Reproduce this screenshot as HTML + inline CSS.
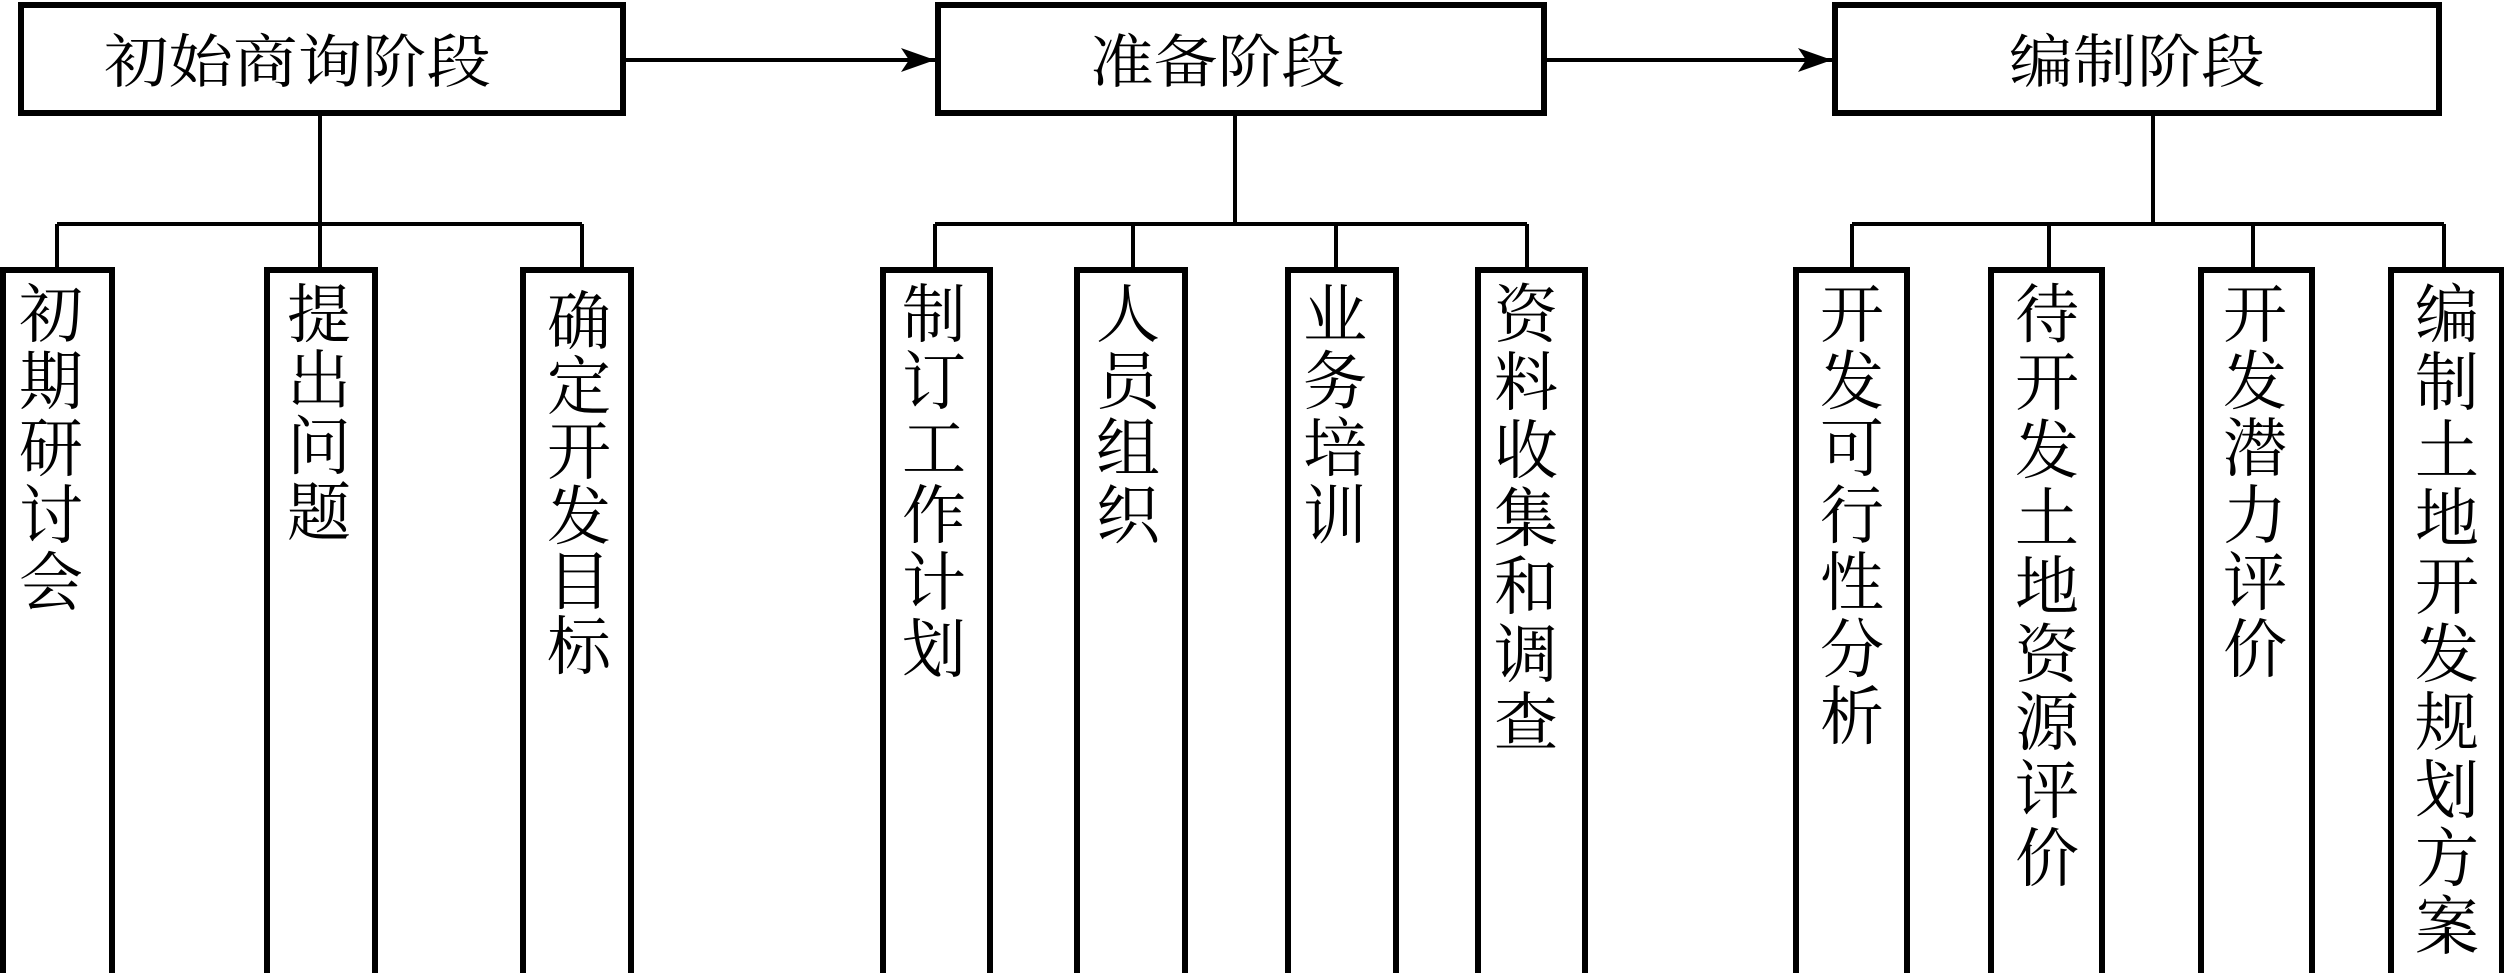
<!DOCTYPE html>
<html><head><meta charset="utf-8"><style>
html,body{margin:0;padding:0;background:#fff;width:2504px;height:973px;overflow:hidden}
text{font-family:"Liberation Serif","Noto Serif CJK SC",serif;fill:#000}
</style></head><body>
<svg width="2504" height="973" viewBox="0 0 2504 973" xmlns="http://www.w3.org/2000/svg">
<defs><marker id="ah" markerWidth="34" markerHeight="24" refX="34" refY="12" orient="auto" markerUnits="userSpaceOnUse"><path d="M0,0 L34,12 L0,24 L8,12 Z" fill="#000"/></marker></defs>
<g fill="none" stroke="#000" stroke-width="6">
<rect x="21" y="5" width="602" height="108"/>
<rect x="938" y="5" width="606" height="108"/>
<rect x="1835" y="5" width="604" height="108"/>
<rect x="3" y="270" width="109" height="720"/>
<rect x="267" y="270" width="108" height="720"/>
<rect x="523" y="270" width="108" height="720"/>
<rect x="883" y="270" width="107" height="720"/>
<rect x="1077" y="270" width="108" height="720"/>
<rect x="1288" y="270" width="108" height="720"/>
<rect x="1478" y="270" width="107" height="720"/>
<rect x="1796" y="270" width="111" height="720"/>
<rect x="1991" y="270" width="111" height="720"/>
<rect x="2201" y="270" width="111" height="720"/>
<rect x="2391" y="270" width="111" height="720"/>
</g>
<g fill="none" stroke="#000" stroke-width="4">
<line x1="626" y1="60" x2="935" y2="60" marker-end="url(#ah)"/>
<line x1="1547" y1="60" x2="1832" y2="60" marker-end="url(#ah)"/>
<path d="M320,116 V224 M57,224 H582 M57,224 V267 M320,224 V267 M582,224 V267"/>
<path d="M1235,116 V224 M935,224 H1527 M935,224 V267 M1133,224 V267 M1336,224 V267 M1527,224 V267"/>
<path d="M2153,116 V224 M1852,224 H2444 M1852,224 V267 M2049,224 V267 M2253,224 V267 M2444,224 V267"/>
</g>
<g font-size="58">
<text x="104" y="82" textLength="387" lengthAdjust="spacingAndGlyphs">初始商询阶段</text>
<text x="1090" y="82" textLength="255" lengthAdjust="spacingAndGlyphs">准备阶段</text>
<text x="2009" y="82" textLength="256" lengthAdjust="spacingAndGlyphs">编制阶段</text>
</g>
<g font-size="64" text-anchor="middle" id="v"></g>
</svg>
<script>
var data=[
[51,283,67,"初期研讨会"],[319,283,66,"提出问题"],[579,290,65,"确定开发目标"],[934,283,67,"制订工作计划"],
[1128,283,67,"人员组织"],[1335,283,67,"业务培训"],[1526,283,68,"资料收集和调查"],
[1852,283,67,"开发可行性分析"],[2047,283,68,"待开发土地资源评价"],[2255,283,67,"开发潜力评价"],[2447,283,68,"编制土地开发规划方案"]];
var g=document.getElementById('v'),s='';
data.forEach(function(d){for(var i=0;i<d[3].length;i++){s+='<text x="'+d[0]+'" y="'+(d[1]+54+i*d[2])+'">'+d[3][i]+'</text>';}});
g.innerHTML=s;
</script>
</body></html>
